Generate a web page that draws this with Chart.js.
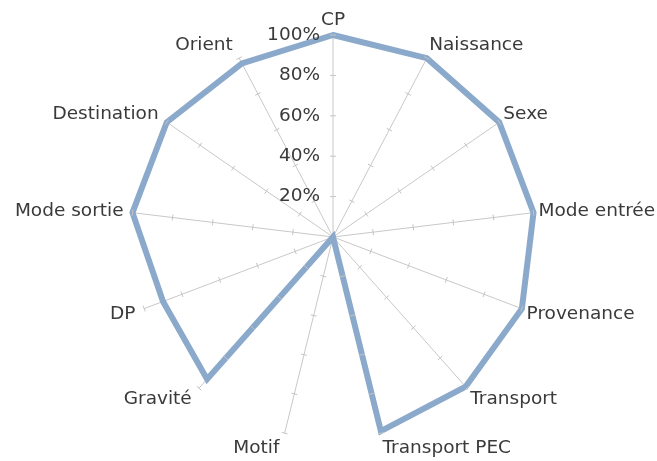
<!DOCTYPE html>
<html>
<head>
<meta charset="utf-8">
<script src="https://cdn.jsdelivr.net/npm/chart.js@4/dist/chart.umd.min.js"></script>
<style>
  html, body { margin: 0; padding: 0; background: #fff; }
  #wrap { width: 657px; height: 461px; }
</style>
</head>
<body>
<div id="wrap"><canvas id="radar" width="657" height="461"></canvas></div>
<script>
const categories = ['CP', 'Naissance', 'Sexe', 'Mode entrée', 'Provenance', 'Transport',
  'Transport PEC', 'Motif', 'Gravité', 'DP', 'Mode sortie', 'Destination', 'Orient'];
const completude = [100, 100, 100, 100, 100, 99, 99, 0, 94, 90, 100, 100, 97];
const tickValues = [20, 40, 60, 80, 100];

const FONT = '18.5px "DejaVu Sans"';
const TEXT = '#3a3a3a';

// graduations, libellés des axes et des valeurs (style Excel)
const excelRadar = {
  id: 'excelRadar',
  afterDraw(chart) {
    const scale = chart.scales.r;
    const ctx = chart.ctx;
    const n = categories.length;
    ctx.save();

    // petits traits perpendiculaires sur chaque rayon
    ctx.strokeStyle = '#c4c4c4';
    ctx.lineWidth = 1;
    for (let i = 0; i < n; i++) {
      const a = scale.getIndexAngle(i) - Math.PI / 2;
      const px = -Math.sin(a) * 3, py = Math.cos(a) * 3;
      tickValues.forEach(v => {
        const p = scale.getPointPositionForValue(i, v);
        ctx.beginPath();
        ctx.moveTo(p.x - px, p.y - py);
        ctx.lineTo(p.x + px, p.y + py);
        ctx.stroke();
      });
    }

    ctx.font = FONT;
    ctx.fillStyle = TEXT;

    // valeurs sur l'axe CP
    ctx.textAlign = 'right';
    ctx.textBaseline = 'middle';
    tickValues.forEach(v => {
      const p = scale.getPointPositionForValue(0, v);
      ctx.fillText(v + '%', p.x - 13, p.y);
    });

    // libellés des catégories
    for (let i = 0; i < n; i++) {
      const ang = scale.getIndexAngle(i);
      const s = Math.sin(ang), c = Math.cos(ang);
      const p = scale.getPointPosition(i, scale.drawingArea + 5);
      let x = p.x;
      if (Math.abs(s) < 0.1) ctx.textAlign = 'center';
      else if (s > 0) ctx.textAlign = 'left';
      else { ctx.textAlign = 'right'; x -= 4; }
      ctx.fillText(categories[i], x, p.y - c * 10);
    }
    ctx.restore();
  }
};

new Chart(document.getElementById('radar'), {
  type: 'radar',
  data: {
    labels: categories,
    datasets: [{
      data: completude,
      borderColor: '#8ba9cb',
      borderWidth: 6,
      borderJoinStyle: 'miter',
      fill: false,
      pointRadius: 0,
      tension: 0
    }]
  },
  options: {
    responsive: false,
    animation: false,
    events: [],
    layout: { padding: { top: 35, bottom: 22, left: 9, right: 0 } },
    plugins: { legend: { display: false }, tooltip: { enabled: false } },
    scales: {
      r: {
        min: 0,
        max: 100,
        ticks: { display: false, stepSize: 20 },
        grid: { display: false },
        angleLines: { display: true, color: '#c8c8c8', lineWidth: 1 },
        pointLabels: { display: false }
      }
    }
  },
  plugins: [excelRadar]
});
</script>
</body>
</html>
